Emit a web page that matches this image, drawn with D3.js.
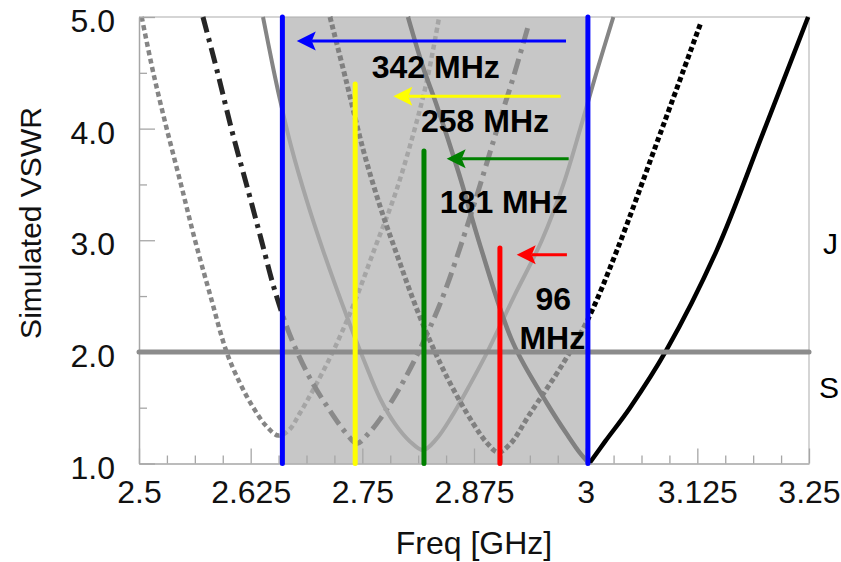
<!DOCTYPE html>
<html>
<head>
<meta charset="utf-8">
<script src="https://cdn.jsdelivr.net/npm/d3@7"></script>
<style>
  html, body { margin: 0; padding: 0; background: #fff; }
  svg { display: block; font-family: "Liberation Sans", Arial, Helvetica, sans-serif; }
</style>
</head>
<body>
<svg id="chart" width="841" height="562"></svg>
<script>
// ---- axis ticks ----
const xTicks = [2.5, 2.625, 2.75, 2.875, 3, 3.125, 3.25];
const xTickLabels = ["2.5", "2.625", "2.75", "2.875", "3", "3.125", "3.25"];
const yTicks = [1, 2, 3, 4, 5];
const yTickLabels = ["1.0", "2.0", "3.0", "4.0", "5.0"];
const vswrLimit = 2.0;

// ---- simulated VSWR traces, [frequency GHz, VSWR] ----
const traceDotGray = [
  [2.503, 5.0], [2.516, 4.5], [2.531, 4.0], [2.547, 3.5], [2.5627, 3.0], [2.580, 2.5],
  [2.598, 2.0], [2.613, 1.72], [2.628, 1.5], [2.642, 1.34], [2.656, 1.25], [2.668, 1.3],
  [2.680, 1.45], [2.695, 1.66], [2.717, 2.0], [2.740, 2.42], [2.765, 2.95], [2.787, 3.42],
  [2.807, 3.95], [2.822, 4.42], [2.836, 5.0]
];
const traceDashDot = [
  [2.5716, 5.0], [2.588, 4.5], [2.605, 3.95], [2.622, 3.45], [2.637, 3.0], [2.652, 2.55],
  [2.669, 2.15], [2.691, 1.77], [2.714, 1.47], [2.732, 1.27], [2.744, 1.18], [2.757, 1.27],
  [2.770, 1.4], [2.792, 1.68], [2.813, 2.0], [2.838, 2.45], [2.863, 3.02], [2.882, 3.5],
  [2.901, 4.0], [2.919, 4.46], [2.935, 4.9]
];
const traceSolidGray = [
  [2.6388, 5.0], [2.650, 4.55], [2.6578, 4.26], [2.670, 3.85], [2.688, 3.35], [2.706, 2.91],
  [2.733, 2.31], [2.752, 1.92], [2.770, 1.58], [2.787, 1.35], [2.803, 1.2], [2.818, 1.12],
  [2.833, 1.22], [2.850, 1.42], [2.870, 1.7], [2.890, 2.0], [2.920, 2.5], [2.951, 3.0],
  [2.975, 3.5], [2.994, 4.0], [3.012, 4.5], [3.031, 5.0]
];
const traceDotBlack = [
  [2.7138, 5.0], [2.7325, 4.41], [2.751, 3.81], [2.770, 3.3], [2.787, 2.91], [2.8146, 2.31],
  [2.845, 1.77], [2.874, 1.36], [2.890, 1.18], [2.902, 1.1], [2.915, 1.17], [2.938, 1.45],
  [2.975, 1.9], [3.003, 2.3], [3.035, 2.91], [3.080, 3.88], [3.129, 4.95]
];
const traceSolidBlack = [
  [2.8011, 5.0], [2.818, 4.55], [2.8336, 4.2], [2.858, 3.6], [2.882, 2.95], [2.9187, 2.08],
  [2.9567, 1.54], [2.980, 1.25], [2.994, 1.09], [3.004, 1.0], [3.022, 1.2], [3.0497, 1.5],
  [3.0907, 2.02], [3.1467, 2.91], [3.1985, 3.96], [3.249, 5.0]
];

// ---- tuning bands (GHz) and their markers ----
const bandStart = [2.6605, 2.742, 2.819, 2.904];
const bandEnd = [3.0025, 3.000, 3.000, 3.000];
const markerTop = [5.0, 4.4, 3.8, 2.93];
const arrowLevel = [4.785, 4.29, 3.73, 2.87];
const arrowTail = [2.978, 2.972, 2.981, 2.979];
const arrowTip = [2.6766, 2.7847, 2.8444, 2.9228];

// ---- presentation ----
const bandColors = ["#0000ff", "#ffff00", "#008000", "#ff0000"];
const labelAnchor = [[2.8322, 4.451], [2.8873, 3.972], [2.9084, 3.241], [2.9638, 2.375]];
const FONT = '"Liberation Sans", Arial, Helvetica, sans-serif';

const svg = d3.select("#chart");
const x = d3.scaleLinear().domain([2.5, 3.25]).range([139, 809]);
const y = d3.scaleLinear().domain([1, 5]).range([463.5, 17]);

// light frame on top and right
svg.append("path")
  .attr("d", `M${x(2.5)},${y(5)}H${x(3.25)}V${y(1)}`)
  .attr("fill", "none").attr("stroke", "#c8c8c8").attr("stroke-width", 1.5);

// traces; a sharp resonance is drawn as two branches meeting at its minimum
const line = d3.line().x(d => x(d[0])).y(d => y(d[1])).curve(d3.curveCatmullRom.alpha(0.5));
function tracePath(data, sharp) {
  if (!sharp) return line(data);
  const iMin = d3.minIndex(data, d => d[1]);
  return line(data.slice(0, iMin + 1)) + line(data.slice(iMin));
}
const traces = [
  { data: traceDotGray, color: "#858585", width: 4.5, dash: "5,3.5", sharp: false },
  { data: traceDashDot, color: "#262626", width: 5, dash: "16,6,4,6", sharp: false },
  { data: traceSolidGray, color: "#858585", width: 4, dash: null, sharp: false },
  { data: traceDotBlack, color: "#000000", width: 5, dash: "5,3", sharp: false },
  { data: traceSolidBlack, color: "#000000", width: 4.5, dash: null, sharp: true }
];
svg.append("g").selectAll("path").data(traces).join("path")
  .attr("d", d => tracePath(d.data, d.sharp))
  .attr("fill", "none")
  .attr("stroke", d => d.color)
  .attr("stroke-width", d => d.width)
  .attr("stroke-dasharray", d => d.dash)
  .attr("stroke-linejoin", "round");

// translucent band between the widest resonance and the upper edge
svg.append("rect")
  .attr("x", x(bandStart[0]))
  .attr("y", y(5))
  .attr("width", x(bandEnd[0]) - x(bandStart[0]))
  .attr("height", y(1) - y(5))
  .attr("fill", "rgb(178,178,178)")
  .attr("fill-opacity", 0.72);

// axes
const xMinor = d3.range(0, 25).map(i => 2.5 + i * 0.03125).filter(v => !xTicks.some(t => Math.abs(t - v) < 1e-6));
const yMinor = [1.5, 2.5, 3.5, 4.5];

function styleAxis(g) {
  g.attr("font-family", FONT).attr("font-size", 32);
  g.select(".domain").attr("stroke", "#a6a6a6").attr("stroke-width", 1.5);
  g.selectAll(".tick line").attr("stroke", "#a6a6a6").attr("stroke-width", 1.3);
  g.selectAll(".tick text").attr("fill", "#111");
}

svg.append("g").attr("transform", `translate(0,${y(1)})`)
  .call(d3.axisBottom(x).tickValues(xMinor).tickFormat("").tickSize(-8).tickSizeOuter(0))
  .call(styleAxis).call(g => g.select(".domain").remove());
svg.append("g").attr("transform", `translate(${x(2.5)},0)`)
  .call(d3.axisLeft(y).tickValues(yMinor).tickFormat("").tickSize(-8).tickSizeOuter(0))
  .call(styleAxis).call(g => g.select(".domain").remove());

svg.append("g").attr("transform", `translate(0,${y(1)})`)
  .call(d3.axisBottom(x).tickValues(xTicks).tickFormat((d, i) => xTickLabels[i])
    .tickSize(-15).tickSizeOuter(0).tickPadding(17))
  .call(styleAxis);
svg.append("g").attr("transform", `translate(${x(2.5)},0)`)
  .call(d3.axisLeft(y).tickValues(yTicks).tickFormat((d, i) => yTickLabels[i])
    .tickSize(-16).tickSizeOuter(0).tickPadding(24))
  .call(styleAxis)
  .call(g => g.selectAll(".tick text").attr("dy", "0.46em"));

// axis titles
svg.append("text")
  .attr("x", (x(2.5) + x(3.25)) / 2).attr("y", 554)
  .attr("text-anchor", "middle").attr("font-size", 32).attr("fill", "#111")
  .text("Freq [GHz]");
svg.append("text")
  .attr("transform", "translate(41,223) rotate(-90)")
  .attr("text-anchor", "middle").attr("font-size", 30).attr("fill", "#111")
  .text("Simulated VSWR");

// VSWR = 2 limit
svg.append("line")
  .attr("x1", x(2.5)).attr("x2", x(3.25))
  .attr("y1", y(vswrLimit)).attr("y2", y(vswrLimit))
  .attr("stroke", "#8c8c8c").attr("stroke-width", 5).attr("stroke-linecap", "round");

// resonance markers and band edge
const markers = bandStart.map((f, i) => ({ f, top: markerTop[i], color: bandColors[i] }));
markers.push({ f: bandEnd[0], top: markerTop[0], color: bandColors[0] });
svg.append("g").selectAll("line").data(markers).join("line")
  .attr("x1", d => x(d.f)).attr("x2", d => x(d.f))
  .attr("y1", y(1)).attr("y2", d => y(d.top))
  .attr("stroke", d => d.color).attr("stroke-width", 5).attr("stroke-linecap", "round");

// arrows pointing toward lower frequency
const headLen = 19, headHalf = 9.5, notch = 4;
const arrows = arrowTip.map((f, i) => ({ tip: f, tail: arrowTail[i], v: arrowLevel[i], color: bandColors[i] }));
const ag = svg.append("g");
arrows.forEach(a => {
  const tx = x(a.tip), ty = y(a.v);
  ag.append("line")
    .attr("x1", x(a.tail)).attr("x2", tx + headLen - notch)
    .attr("y1", ty).attr("y2", ty)
    .attr("stroke", a.color).attr("stroke-width", 3.2);
  ag.append("path")
    .attr("d", `M${tx},${ty}L${tx + headLen},${ty - headHalf}L${tx + headLen - notch},${ty}L${tx + headLen},${ty + headHalf}Z`)
    .attr("fill", a.color);
});

// bandwidth labels, computed from the band limits
const lg = svg.append("g").attr("font-weight", "bold").attr("font-size", 32).attr("fill", "#000")
  .attr("text-anchor", "middle");
bandStart.forEach((f, i) => {
  const mhz = Math.round((bandEnd[i] - f) * 1000);
  const [lx, ly] = labelAnchor[i];
  if (i < 3) {
    lg.append("text").attr("x", x(lx)).attr("y", y(ly)).text(`${mhz} MHz`);
  } else {
    const t = lg.append("text").attr("x", x(lx)).attr("y", y(ly));
    t.append("tspan").attr("x", x(lx)).text(`${mhz}`);
    t.append("tspan").attr("x", x(lx) - 1).attr("dy", 39).text("MHz");
  }
});

// side glyphs at the right margin
svg.append("text").attr("x", 823).attr("y", 254).attr("font-size", 30).attr("fill", "#000").text("J");
svg.append("text").attr("x", 819).attr("y", 398).attr("font-size", 30).attr("fill", "#000").text("S");
</script>
</body>
</html>
